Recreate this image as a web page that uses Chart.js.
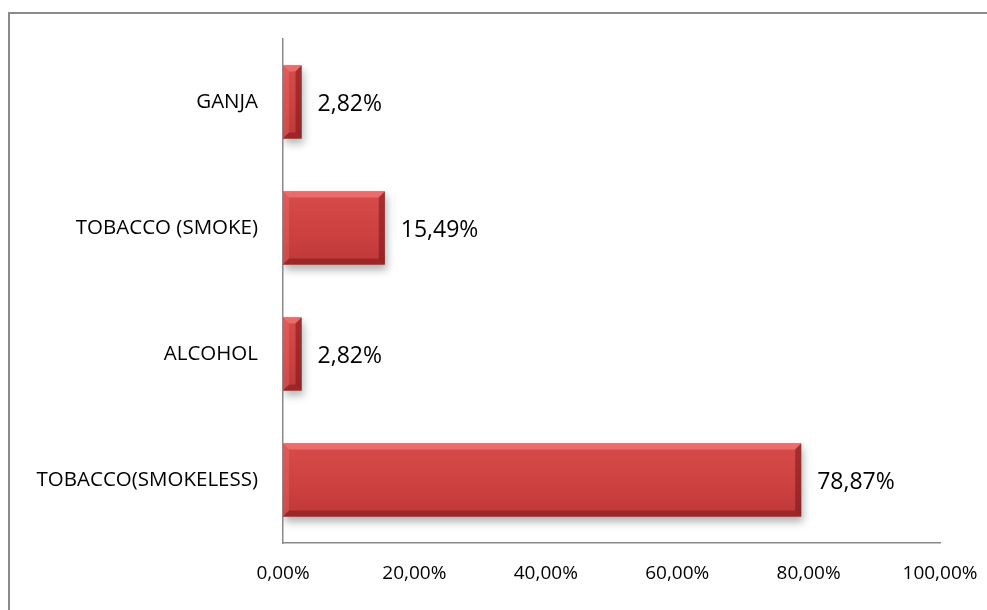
<!DOCTYPE html>
<html>
<head>
<meta charset="utf-8">
<script src="https://cdn.jsdelivr.net/npm/chart.js@4.4.1/dist/chart.umd.min.js"></script>
<style>
  html, body { margin: 0; padding: 0; background: #ffffff; }
  #wrap { position: relative; width: 987px; height: 610px; overflow: hidden; }
  canvas { display: block; }
</style>
</head>
<body>
<div id="wrap"><canvas id="chart" width="987" height="610"></canvas></div>
<script>
// Substance use shares (%)
const categories = ['GANJA', 'TOBACCO (SMOKE)', 'ALCOHOL', 'TOBACCO(SMOKELESS)'];
const shares = [2.82, 15.49, 2.82, 78.87];
const xTicks = [0, 20, 40, 60, 80, 100];

const FONT = "'Open Sans', 'DejaVu Sans', sans-serif";

function pct(v) {
  return v.toFixed(2).replace('.', ',') + '%';
}

// Outer frame around the chart
const framePlugin = {
  id: 'frame',
  beforeDraw(chart) {
    const ctx = chart.ctx;
    ctx.save();
    ctx.fillStyle = '#ffffff';
    ctx.fillRect(0, 0, chart.width, chart.height);
    ctx.strokeStyle = '#8a8a8a';
    ctx.lineWidth = 2;
    ctx.strokeRect(9, 13, chart.width + 20, chart.height + 20);
    ctx.restore();
  }
};

// Soft drop shadow under the bars, then shading, a bevel and value labels on top
const bevelPlugin = {
  id: 'bevel',
  beforeDatasetsDraw(chart) {
    const ctx = chart.ctx;
    ctx.save();
    ctx.shadowColor = 'rgba(0,0,0,0.30)';
    ctx.shadowBlur = 8;
    ctx.shadowOffsetX = 2;
    ctx.shadowOffsetY = 5;
  },
  afterDatasetsDraw(chart) {
    const ctx = chart.ctx;
    ctx.restore();
    const meta = chart.getDatasetMeta(0);
    meta.data.forEach((bar, i) => {
      const p = bar.getProps(['x', 'y', 'base', 'height'], true);
      const l = p.base, r = p.x, t = p.y - p.height / 2, b = p.y + p.height / 2;
      const w = Math.min(6, (r - l) / 3);
      ctx.save();
      // body shading
      const g = ctx.createLinearGradient(0, t, 0, b);
      g.addColorStop(0, '#d84b4b');
      g.addColorStop(0.5, '#cf4242');
      g.addColorStop(1, '#bf3838');
      ctx.fillStyle = g;
      ctx.fillRect(l, t, r - l, b - t);
      // top bevel
      ctx.beginPath();
      ctx.moveTo(l, t); ctx.lineTo(r, t); ctx.lineTo(r - w, t + w); ctx.lineTo(l + w, t + w); ctx.closePath();
      ctx.fillStyle = 'rgba(255,150,150,0.45)';
      ctx.fill();
      // left bevel
      ctx.beginPath();
      ctx.moveTo(l, t); ctx.lineTo(l + w, t + w); ctx.lineTo(l + w, b - w); ctx.lineTo(l, b); ctx.closePath();
      ctx.fillStyle = 'rgba(255,190,190,0.15)';
      ctx.fill();
      // bottom bevel
      ctx.beginPath();
      ctx.moveTo(l, b); ctx.lineTo(r, b); ctx.lineTo(r - w, b - w); ctx.lineTo(l + w, b - w); ctx.closePath();
      ctx.fillStyle = 'rgba(90,0,0,0.32)';
      ctx.fill();
      // right bevel
      ctx.beginPath();
      ctx.moveTo(r, t); ctx.lineTo(r, b); ctx.lineTo(r - w, b - w); ctx.lineTo(r - w, t + w); ctx.closePath();
      ctx.fillStyle = 'rgba(90,0,0,0.38)';
      ctx.fill();
      ctx.restore();

      // value label
      ctx.save();
      ctx.font = '23px ' + FONT;
      ctx.fillStyle = '#000000';
      ctx.textAlign = 'left';
      ctx.textBaseline = 'middle';
      ctx.fillText(pct(shares[i]), r + 16, p.y + 2);
      ctx.restore();
    });
  }
};

const ctx = document.getElementById('chart').getContext('2d');

new Chart(ctx, {
  type: 'bar',
  data: {
    labels: categories,
    datasets: [{
      data: shares,
      backgroundColor: '#cc4040',
      borderWidth: 0,
      barPercentage: 0.58,
      categoryPercentage: 1.0
    }]
  },
  options: {
    indexAxis: 'y',
    responsive: false,
    animation: false,
    events: [],
    layout: { padding: { top: 39, right: 47, left: 0, bottom: 0 } },
    plugins: {
      legend: { display: false },
      tooltip: { enabled: false },
      title: { display: false }
    },
    scales: {
      x: {
        min: 0,
        max: 100,
        afterBuildTicks(scale) {
          scale.ticks = xTicks.map(v => ({ value: v }));
        },
        afterFit(scale) {
          scale.height = 67;
          scale.paddingLeft = 0;
          scale.paddingRight = 0;
        },
        grid: { display: false, drawTicks: false },
        border: { display: true, color: '#8a8a8a', width: 1.5 },
        ticks: {
          padding: 19,
          color: '#000000',
          font: { family: FONT, size: 19 },
          maxRotation: 0,
          callback: (v) => pct(v)
        }
      },
      y: {
        z: 1,
        afterFit(scale) { scale.width = 283; },
        grid: { display: false, drawTicks: false },
        border: { display: true, color: '#8a8a8a', width: 1.5 },
        ticks: {
          padding: 25,
          color: '#000000',
          font: { family: FONT, size: 20.5 }
        }
      }
    }
  },
  plugins: [framePlugin, bevelPlugin]
});
</script>
</body>
</html>
